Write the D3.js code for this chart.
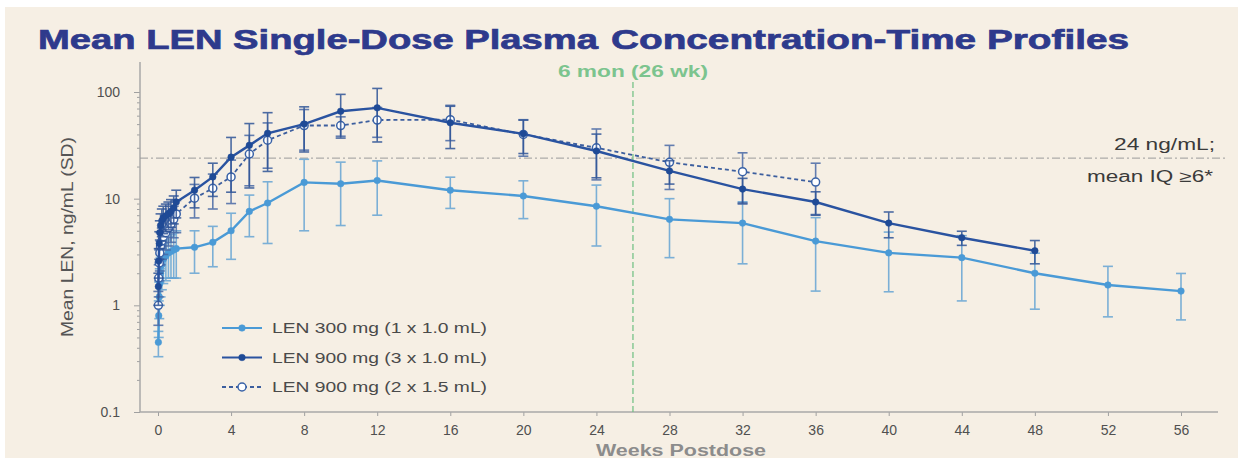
<!DOCTYPE html>
<html>
<head>
<meta charset="utf-8">
<script src="https://cdn.jsdelivr.net/npm/d3@7"></script>
<style>
  body { margin: 0; background: #ffffff; }
  svg { display: block; font-family: "Liberation Sans", Arial, sans-serif; }
</style>
</head>
<body>
<svg id="canvas"></svg>
<script>
// Weeks postdose for each series
var weeks300 = [0.02, 0.04, 0.07, 0.1, 0.14, 0.21, 0.29, 0.43, 0.57, 0.71, 0.86, 1, 2, 3, 4, 5, 6, 8, 10, 12, 16, 20, 24, 28, 32, 36, 40, 44, 48, 52, 56];
var mean300 = [0.45, 0.8, 1.2, 1.6, 2.0, 2.4, 2.7, 2.9, 3.1, 3.2, 3.3, 3.4, 3.5, 3.9, 5.0, 7.6, 9.1, 14.2, 13.8, 14.8, 12.0, 10.6, 8.5, 6.4, 5.9, 4.0, 3.1, 2.8, 2.0, 1.55, 1.36];
var sd300 = [0.12, 0.3, 0.45, 0.6, 0.8, 1.0, 1.1, 1.2, 1.3, 1.4, 1.5, 1.6, 1.5, 1.6, 2.3, 3.2, 5.3, 9.2, 8.2, 7.8, 3.9, 4.1, 4.9, 3.6, 3.45, 2.64, 1.76, 1.7, 1.08, 0.77, 0.63];

var weeks900a = [0.02, 0.04, 0.07, 0.1, 0.14, 0.21, 0.29, 0.43, 0.57, 0.71, 0.86, 1, 2, 3, 4, 5, 6, 8, 10, 12, 16, 20, 24, 28, 32, 36, 40, 44, 48];
var mean900a = [1.5, 2.6, 3.8, 4.8, 5.6, 6.2, 6.6, 6.9, 7.2, 7.6, 8.2, 9.3, 12.0, 16.0, 24.5, 31.6, 41, 50, 66, 71, 51.5, 40.5, 28, 18.2, 12.3, 9.3, 5.9, 4.3, 3.25];
var sd900a = [0.5, 0.8, 1.1, 1.4, 1.6, 1.8, 1.9, 2.0, 2.1, 2.2, 2.4, 2.7, 3.8, 5.5, 13, 19, 23, 22.6, 29, 37, 22, 14, 12.3, 4.5, 3.2, 2.3, 1.6, 0.65, 0.8];

var weeks900b = [0.02, 0.04, 0.07, 0.1, 0.14, 0.21, 0.29, 0.43, 0.57, 0.71, 0.86, 1, 2, 3, 4, 5, 6, 8, 10, 12, 16, 20, 24, 28, 32, 36];
var mean900b = [1.0, 1.8, 2.5, 3.1, 3.6, 4.0, 4.4, 4.8, 5.3, 5.8, 6.4, 7.2, 10.1, 12.5, 16.0, 26.2, 35.3, 48.5, 48.5, 54.6, 55, 40, 30, 21.9, 17.9, 14.3];
var sd900b = [0.35, 0.6, 0.8, 1.0, 1.2, 1.3, 1.4, 1.5, 1.7, 1.9, 2.1, 2.4, 3.5, 4.5, 7, 13, 16, 20, 10, 17, 20, 15, 15, 9.7, 9, 7.2];

var seriesNames = ['LEN 300 mg (1 x 1.0 mL)', 'LEN 900 mg (3 x 1.0 mL)', 'LEN 900 mg (2 x 1.5 mL)'];

var xTicks = [0, 4, 8, 12, 16, 20, 24, 28, 32, 36, 40, 44, 48, 52, 56];
var yTicks = [0.1, 1, 10, 100];
var targetConc = 24;
var sixMonthWeek = 26;

var canvasWidth = 1238;
var canvasHeight = 458;

var svg = d3.select('#canvas')
  .attr('width', canvasWidth)
  .attr('height', canvasHeight);

// Background
svg.append('rect')
  .attr('x', 5).attr('y', 7)
  .attr('width', canvasWidth - 5).attr('height', canvasHeight - 7)
  .attr('fill', '#f6efe4');

// Title (two runs so the stretched lettering lines up with the original)
var title = svg.append('text')
  .attr('y', 49)
  .attr('font-size', 28).attr('font-weight', 'bold')
  .attr('fill', '#2e3a8c')
  .attr('stroke', '#2e3a8c').attr('stroke-width', 0.7);
title.append('tspan')
  .attr('x', 38)
  .attr('textLength', 560).attr('lengthAdjust', 'spacingAndGlyphs')
  .text('Mean LEN Single-Dose Plasma');
title.append('tspan')
  .attr('x', 611)
  .attr('textLength', 518).attr('lengthAdjust', 'spacingAndGlyphs')
  .text('Concentration-Time Profiles');

var x = d3.scaleLinear().domain([0, 56]).range([158, 1181]);
var y = d3.scaleLog().domain([0.1, 100]).range([412, 92]);

var axisLeftX = 140;
var axisBottomY = 412;

// Y axis
var yAxis = svg.append('g')
  .attr('transform', 'translate(' + axisLeftX + ',0)')
  .call(d3.axisLeft(y).tickValues(yTicks).tickSize(6).tickPadding(14)
    .tickFormat(function(d) { return d < 1 ? '0.1' : String(d); }));
yAxis.select('.domain').remove();

var minorTicks = [];
[0.1, 1, 10, 100].forEach(function(base) {
  for (var k = 2; k <= 9; k++) {
    if (base * k < 190) minorTicks.push(base * k);
  }
});
var yMinor = svg.append('g')
  .attr('transform', 'translate(' + axisLeftX + ',0)')
  .call(d3.axisLeft(y).tickValues(minorTicks).tickSize(3).tickFormat(''));
yMinor.select('.domain').remove();

svg.append('line')
  .attr('x1', axisLeftX).attr('x2', axisLeftX)
  .attr('y1', 62).attr('y2', axisBottomY)
  .attr('stroke', '#a8a8a8').attr('stroke-width', 1.5);

// X axis
var xAxis = svg.append('g')
  .attr('transform', 'translate(0,' + axisBottomY + ')')
  .call(d3.axisBottom(x).tickValues(xTicks).tickSize(4).tickPadding(9));
xAxis.select('.domain').remove();

svg.append('line')
  .attr('x1', axisLeftX).attr('x2', 1218)
  .attr('y1', axisBottomY).attr('y2', axisBottomY)
  .attr('stroke', '#a8a8a8').attr('stroke-width', 1.5);

svg.selectAll('.tick line').attr('stroke', '#a0a0a0');
svg.selectAll('.tick text')
  .attr('font-size', 14)
  .attr('fill', '#505050')
  .attr('font-family', '"Liberation Sans", Arial, sans-serif');

// Axis titles
svg.append('text')
  .attr('transform', 'translate(73,237) rotate(-90)')
  .attr('text-anchor', 'middle')
  .attr('font-size', 16).attr('fill', '#555')
  .attr('textLength', 200).attr('lengthAdjust', 'spacingAndGlyphs')
  .text('Mean LEN, ng/mL (SD)');

svg.append('text')
  .attr('x', 681).attr('y', 456)
  .attr('text-anchor', 'middle')
  .attr('font-size', 16).attr('font-weight', 'bold').attr('fill', '#8c8c8c')
  .attr('textLength', 170).attr('lengthAdjust', 'spacingAndGlyphs')
  .text('Weeks Postdose');

// Reference lines
svg.append('line')
  .attr('x1', axisLeftX).attr('x2', 1228)
  .attr('y1', y(targetConc)).attr('y2', y(targetConc))
  .attr('stroke', '#9a9a9a').attr('stroke-width', 1)
  .attr('stroke-dasharray', '8,3,2,3');

svg.append('text')
  .attr('x', 1215).attr('y', 150)
  .attr('text-anchor', 'end')
  .attr('font-size', 16).attr('fill', '#3a3a3a')
  .attr('textLength', 101).attr('lengthAdjust', 'spacingAndGlyphs')
  .text('24 ng/mL;');
svg.append('text')
  .attr('x', 1213).attr('y', 182)
  .attr('text-anchor', 'end')
  .attr('font-size', 16).attr('fill', '#3a3a3a')
  .attr('textLength', 126).attr('lengthAdjust', 'spacingAndGlyphs')
  .text('mean IQ \u22656*');

svg.append('line')
  .attr('x1', x(sixMonthWeek)).attr('x2', x(sixMonthWeek))
  .attr('y1', 82).attr('y2', axisBottomY)
  .attr('stroke', '#6cbf80').attr('stroke-width', 1.2)
  .attr('stroke-dasharray', '6,3');

svg.append('text')
  .attr('x', x(sixMonthWeek)).attr('y', 77)
  .attr('text-anchor', 'middle')
  .attr('font-size', 16).attr('font-weight', 'bold').attr('fill', '#7cc48e')
  .attr('textLength', 150).attr('lengthAdjust', 'spacingAndGlyphs')
  .text('6 mon (26 wk)');

// Series
function makeRows(w, m, s) {
  return w.map(function(d, i) {
    return { week: d, mean: m[i], sd: s[i] };
  });
}

var series = [
  { rows: makeRows(weeks300, mean300, sd300), line: '#4a9ad6', bar: '#66a5d4', marker: '#4a9ad6', dash: null, open: false },
  { rows: makeRows(weeks900b, mean900b, sd900b), line: '#3c5e9e', bar: '#4a6aa6', marker: '#3a63a8', dash: '4,3', open: true },
  { rows: makeRows(weeks900a, mean900a, sd900a), line: '#2a53a0', bar: '#2f5497', marker: '#1f4a96', dash: null, open: false }
];

var line = d3.line()
  .x(function(d) { return x(d.week); })
  .y(function(d) { return y(d.mean); });

var capHalf = 5;

series.forEach(function(s) {
  var g = svg.append('g');

  var bars = g.selectAll('.err')
    .data(s.rows)
    .enter()
    .append('g')
    .attr('stroke', s.bar)
    .attr('stroke-width', 1.6)
    .attr('opacity', 0.85);

  bars.append('line')
    .attr('x1', function(d) { return x(d.week); })
    .attr('x2', function(d) { return x(d.week); })
    .attr('y1', function(d) { return y(d.mean + d.sd); })
    .attr('y2', function(d) { return y(Math.max(d.mean - d.sd, 0.1)); });
  bars.append('line')
    .attr('x1', function(d) { return x(d.week) - capHalf; })
    .attr('x2', function(d) { return x(d.week) + capHalf; })
    .attr('y1', function(d) { return y(d.mean + d.sd); })
    .attr('y2', function(d) { return y(d.mean + d.sd); });
  bars.append('line')
    .attr('x1', function(d) { return x(d.week) - capHalf; })
    .attr('x2', function(d) { return x(d.week) + capHalf; })
    .attr('y1', function(d) { return y(Math.max(d.mean - d.sd, 0.1)); })
    .attr('y2', function(d) { return y(Math.max(d.mean - d.sd, 0.1)); });

  g.append('path')
    .datum(s.rows)
    .attr('d', line)
    .attr('fill', 'none')
    .attr('stroke', s.line)
    .attr('stroke-width', s.open ? 1.8 : 2.4)
    .attr('stroke-dasharray', s.dash);

  g.selectAll('.pt')
    .data(s.rows)
    .enter()
    .append('circle')
    .attr('cx', function(d) { return x(d.week); })
    .attr('cy', function(d) { return y(d.mean); })
    .attr('r', s.open ? 4 : 3.3)
    .attr('fill', s.open ? '#ffffff' : s.marker)
    .attr('stroke', s.marker)
    .attr('stroke-width', s.open ? 1.5 : 0.5);
});

// Legend
var legendOrder = [series[0], series[2], series[1]];
var legend = svg.append('g')
  .selectAll('.leg')
  .data(legendOrder)
  .enter()
  .append('g')
  .attr('transform', function(d, i) { return 'translate(222,' + (328 + i * 29.5) + ')'; });

legend.append('line')
  .attr('x1', 0).attr('x2', 40)
  .attr('stroke', function(d) { return d.line; })
  .attr('stroke-width', 2)
  .attr('stroke-dasharray', function(d) { return d.dash; });
legend.append('circle')
  .attr('cx', 20).attr('r', function(d) { return d.open ? 4 : 3.3; })
  .attr('fill', function(d) { return d.open ? '#ffffff' : d.marker; })
  .attr('stroke', function(d) { return d.marker; })
  .attr('stroke-width', function(d) { return d.open ? 1.5 : 0.5; });
legend.append('text')
  .attr('x', 50).attr('y', 5)
  .attr('font-size', 14).attr('fill', '#4a4a4a')
  .attr('textLength', 215).attr('lengthAdjust', 'spacingAndGlyphs')
  .text(function(d, i) { return seriesNames[i]; });
</script>
</body>
</html>
